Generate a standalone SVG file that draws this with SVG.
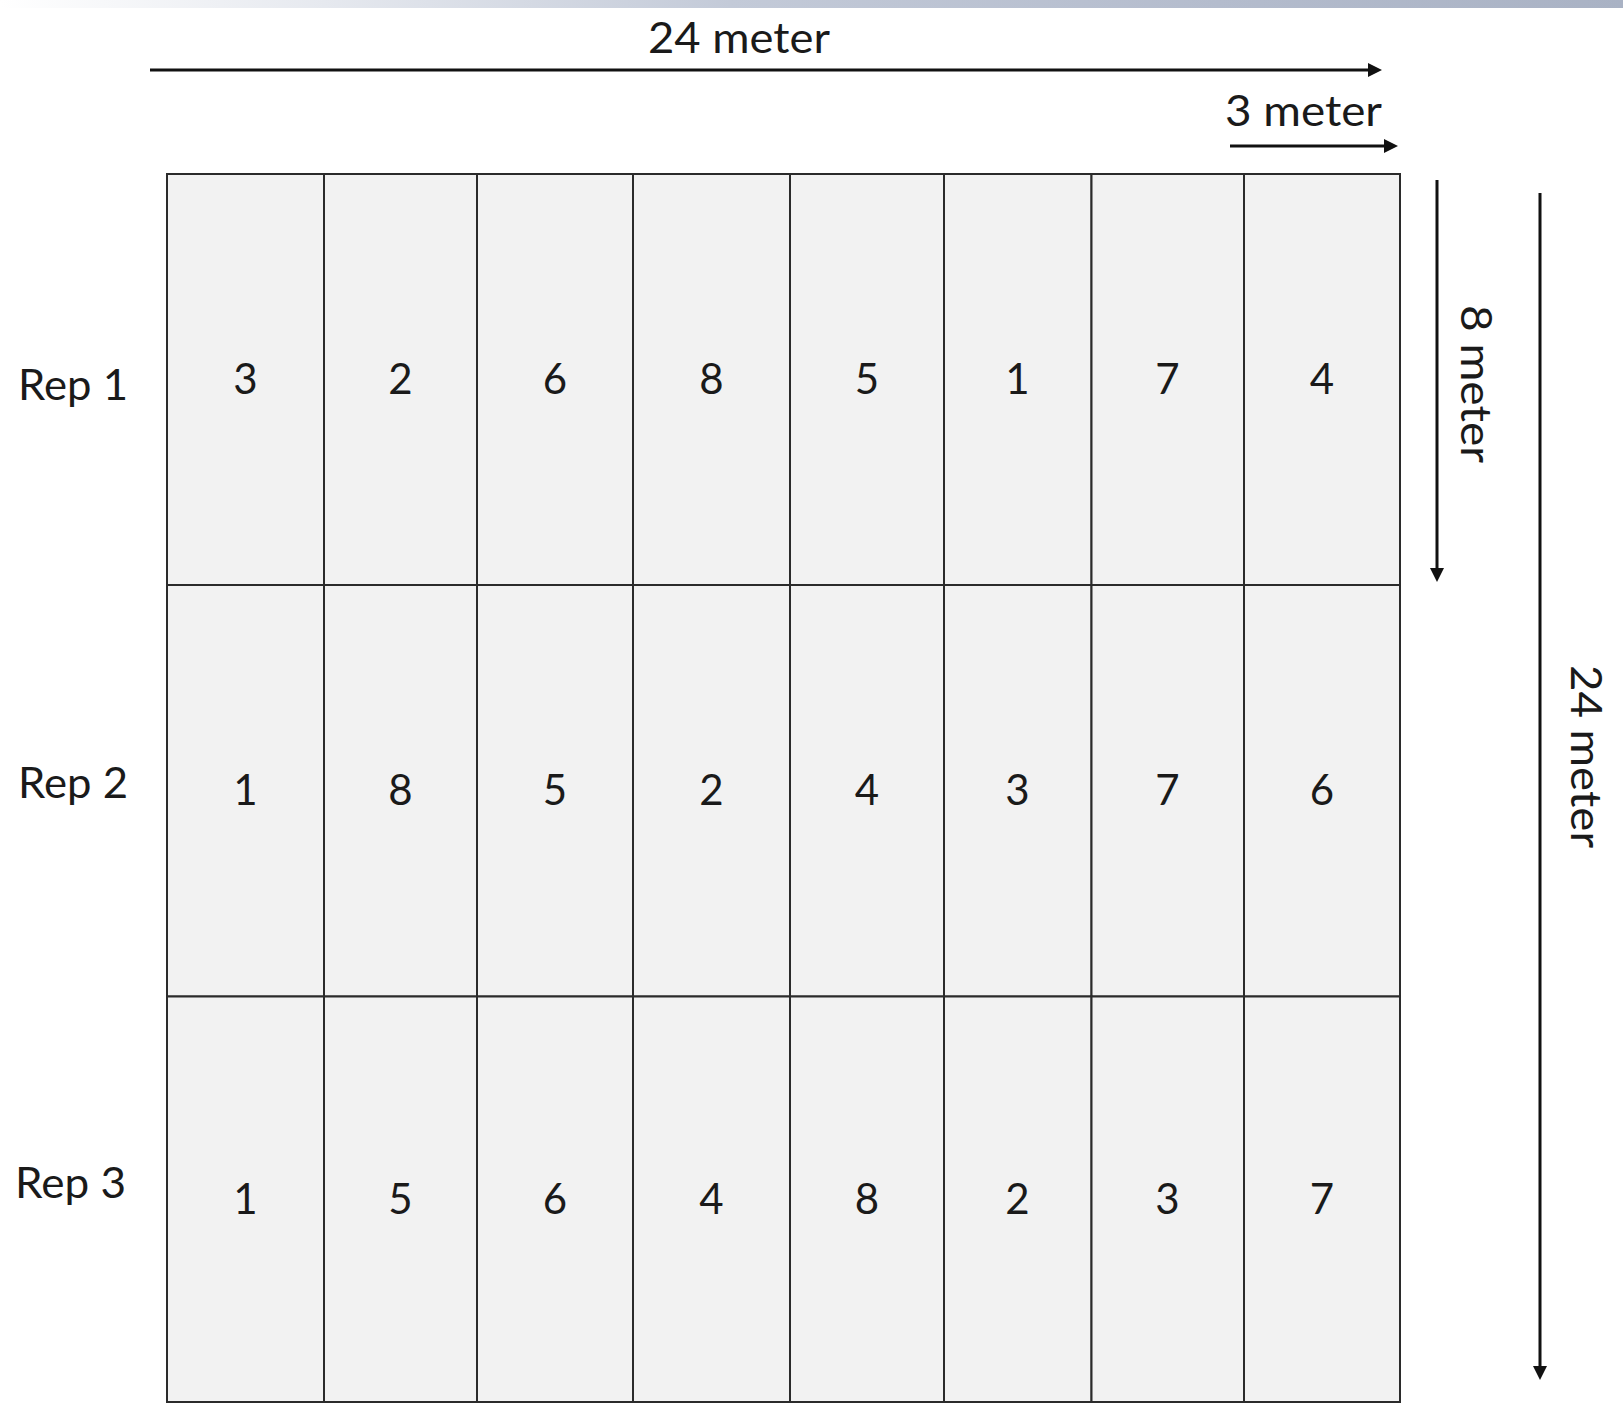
<svg xmlns="http://www.w3.org/2000/svg" width="1623" height="1404" viewBox="0 0 1623 1404">
<style>
.cell rect{fill:#f2f2f2;stroke:#2b2b2b;stroke-width:2}
.num{font-family:Lato,"Open Sans","Liberation Sans",sans-serif;font-size:42px;fill:#1a1a1a;text-anchor:middle}
.rep{font-family:Lato,"Open Sans","Liberation Sans",sans-serif;font-size:43px;fill:#1a1a1a}
.dim{font-family:Lato,"Open Sans","Liberation Sans",sans-serif;font-size:43px;fill:#1a1a1a}
.arr{stroke:#111;stroke-width:3;fill:none;marker-end:url(#ah)}
</style>
<defs>
<marker id="ah" viewBox="0 0 14 14" refX="4" refY="7" markerWidth="14" markerHeight="14" markerUnits="userSpaceOnUse" orient="auto">
<path d="M0,0 L14,7 L0,14 z" fill="#111"/>
</marker>
<linearGradient id="topbar" x1="0" y1="0" x2="1" y2="0">
<stop offset="0" stop-color="#ffffff"/>
<stop offset="0.2" stop-color="#e6e9ef"/>
<stop offset="0.45" stop-color="#c3cad8"/>
<stop offset="0.75" stop-color="#b4bccd"/>
<stop offset="1" stop-color="#a9b2c4"/>
</linearGradient>
</defs>
<rect x="0" y="0" width="1623" height="1404" fill="#ffffff"/>
<rect x="0" y="0" width="1623" height="8" fill="url(#topbar)"/>

<g id="grid">
<g id="r1c1" class="cell"><rect x="167" y="174" width="157" height="411"/><text class="num" x="245.5" y="394">3</text></g>
<g id="r1c2" class="cell"><rect x="324" y="174" width="153" height="411"/><text class="num" x="400.5" y="394">2</text></g>
<g id="r1c3" class="cell"><rect x="477" y="174" width="156" height="411"/><text class="num" x="555" y="394">6</text></g>
<g id="r1c4" class="cell"><rect x="633" y="174" width="157" height="411"/><text class="num" x="711.5" y="394">8</text></g>
<g id="r1c5" class="cell"><rect x="790" y="174" width="154" height="411"/><text class="num" x="867" y="394">5</text></g>
<g id="r1c6" class="cell"><rect x="944" y="174" width="147.5" height="411"/><text class="num" x="1017.5" y="394">1</text></g>
<g id="r1c7" class="cell"><rect x="1091.5" y="174" width="152.5" height="411"/><text class="num" x="1167.5" y="394">7</text></g>
<g id="r1c8" class="cell"><rect x="1244" y="174" width="156" height="411"/><text class="num" x="1322" y="394">4</text></g>

<g id="r2c1" class="cell"><rect x="167" y="585" width="157" height="411.5"/><text class="num" x="245.5" y="805">1</text></g>
<g id="r2c2" class="cell"><rect x="324" y="585" width="153" height="411.5"/><text class="num" x="400.5" y="805">8</text></g>
<g id="r2c3" class="cell"><rect x="477" y="585" width="156" height="411.5"/><text class="num" x="555" y="805">5</text></g>
<g id="r2c4" class="cell"><rect x="633" y="585" width="157" height="411.5"/><text class="num" x="711.5" y="805">2</text></g>
<g id="r2c5" class="cell"><rect x="790" y="585" width="154" height="411.5"/><text class="num" x="867" y="805">4</text></g>
<g id="r2c6" class="cell"><rect x="944" y="585" width="147.5" height="411.5"/><text class="num" x="1017.5" y="805">3</text></g>
<g id="r2c7" class="cell"><rect x="1091.5" y="585" width="152.5" height="411.5"/><text class="num" x="1167.5" y="805">7</text></g>
<g id="r2c8" class="cell"><rect x="1244" y="585" width="156" height="411.5"/><text class="num" x="1322" y="805">6</text></g>

<g id="r3c1" class="cell"><rect x="167" y="996.5" width="157" height="405.5"/><text class="num" x="245.5" y="1214">1</text></g>
<g id="r3c2" class="cell"><rect x="324" y="996.5" width="153" height="405.5"/><text class="num" x="400.5" y="1214">5</text></g>
<g id="r3c3" class="cell"><rect x="477" y="996.5" width="156" height="405.5"/><text class="num" x="555" y="1214">6</text></g>
<g id="r3c4" class="cell"><rect x="633" y="996.5" width="157" height="405.5"/><text class="num" x="711.5" y="1214">4</text></g>
<g id="r3c5" class="cell"><rect x="790" y="996.5" width="154" height="405.5"/><text class="num" x="867" y="1214">8</text></g>
<g id="r3c6" class="cell"><rect x="944" y="996.5" width="147.5" height="405.5"/><text class="num" x="1017.5" y="1214">2</text></g>
<g id="r3c7" class="cell"><rect x="1091.5" y="996.5" width="152.5" height="405.5"/><text class="num" x="1167.5" y="1214">3</text></g>
<g id="r3c8" class="cell"><rect x="1244" y="996.5" width="156" height="405.5"/><text class="num" x="1322" y="1214">7</text></g>
</g>

<g id="rep-labels">
<text id="rep1" class="rep" x="18" y="400" textLength="110" lengthAdjust="spacingAndGlyphs">Rep 1</text>
<text id="rep2" class="rep" x="18" y="798" textLength="110" lengthAdjust="spacingAndGlyphs">Rep 2</text>
<text id="rep3" class="rep" x="15" y="1198" textLength="111" lengthAdjust="spacingAndGlyphs">Rep 3</text>
</g>

<g id="dimension-labels">
<text id="lbl-top24" class="dim" x="648" y="53" textLength="182" lengthAdjust="spacingAndGlyphs">24 meter</text>
<text id="lbl-3" class="dim" x="1225" y="126" textLength="157" lengthAdjust="spacingAndGlyphs">3 meter</text>
<text id="lbl-8" class="dim" transform="translate(1461,305) rotate(90)" x="0" y="0" textLength="158" lengthAdjust="spacingAndGlyphs">8 meter</text>
<text id="lbl-side24" class="dim" transform="translate(1571,665) rotate(90)" x="0" y="0" textLength="183" lengthAdjust="spacingAndGlyphs">24 meter</text>
</g>

<g id="connectors">
<line class="arr" x1="150" y1="70" x2="1372" y2="70"/>
<line class="arr" x1="1230" y1="146" x2="1388" y2="146"/>
<line class="arr" x1="1437" y1="180" x2="1437" y2="572"/>
<line class="arr" x1="1540" y1="193" x2="1540" y2="1370"/>
</g>
</svg>
